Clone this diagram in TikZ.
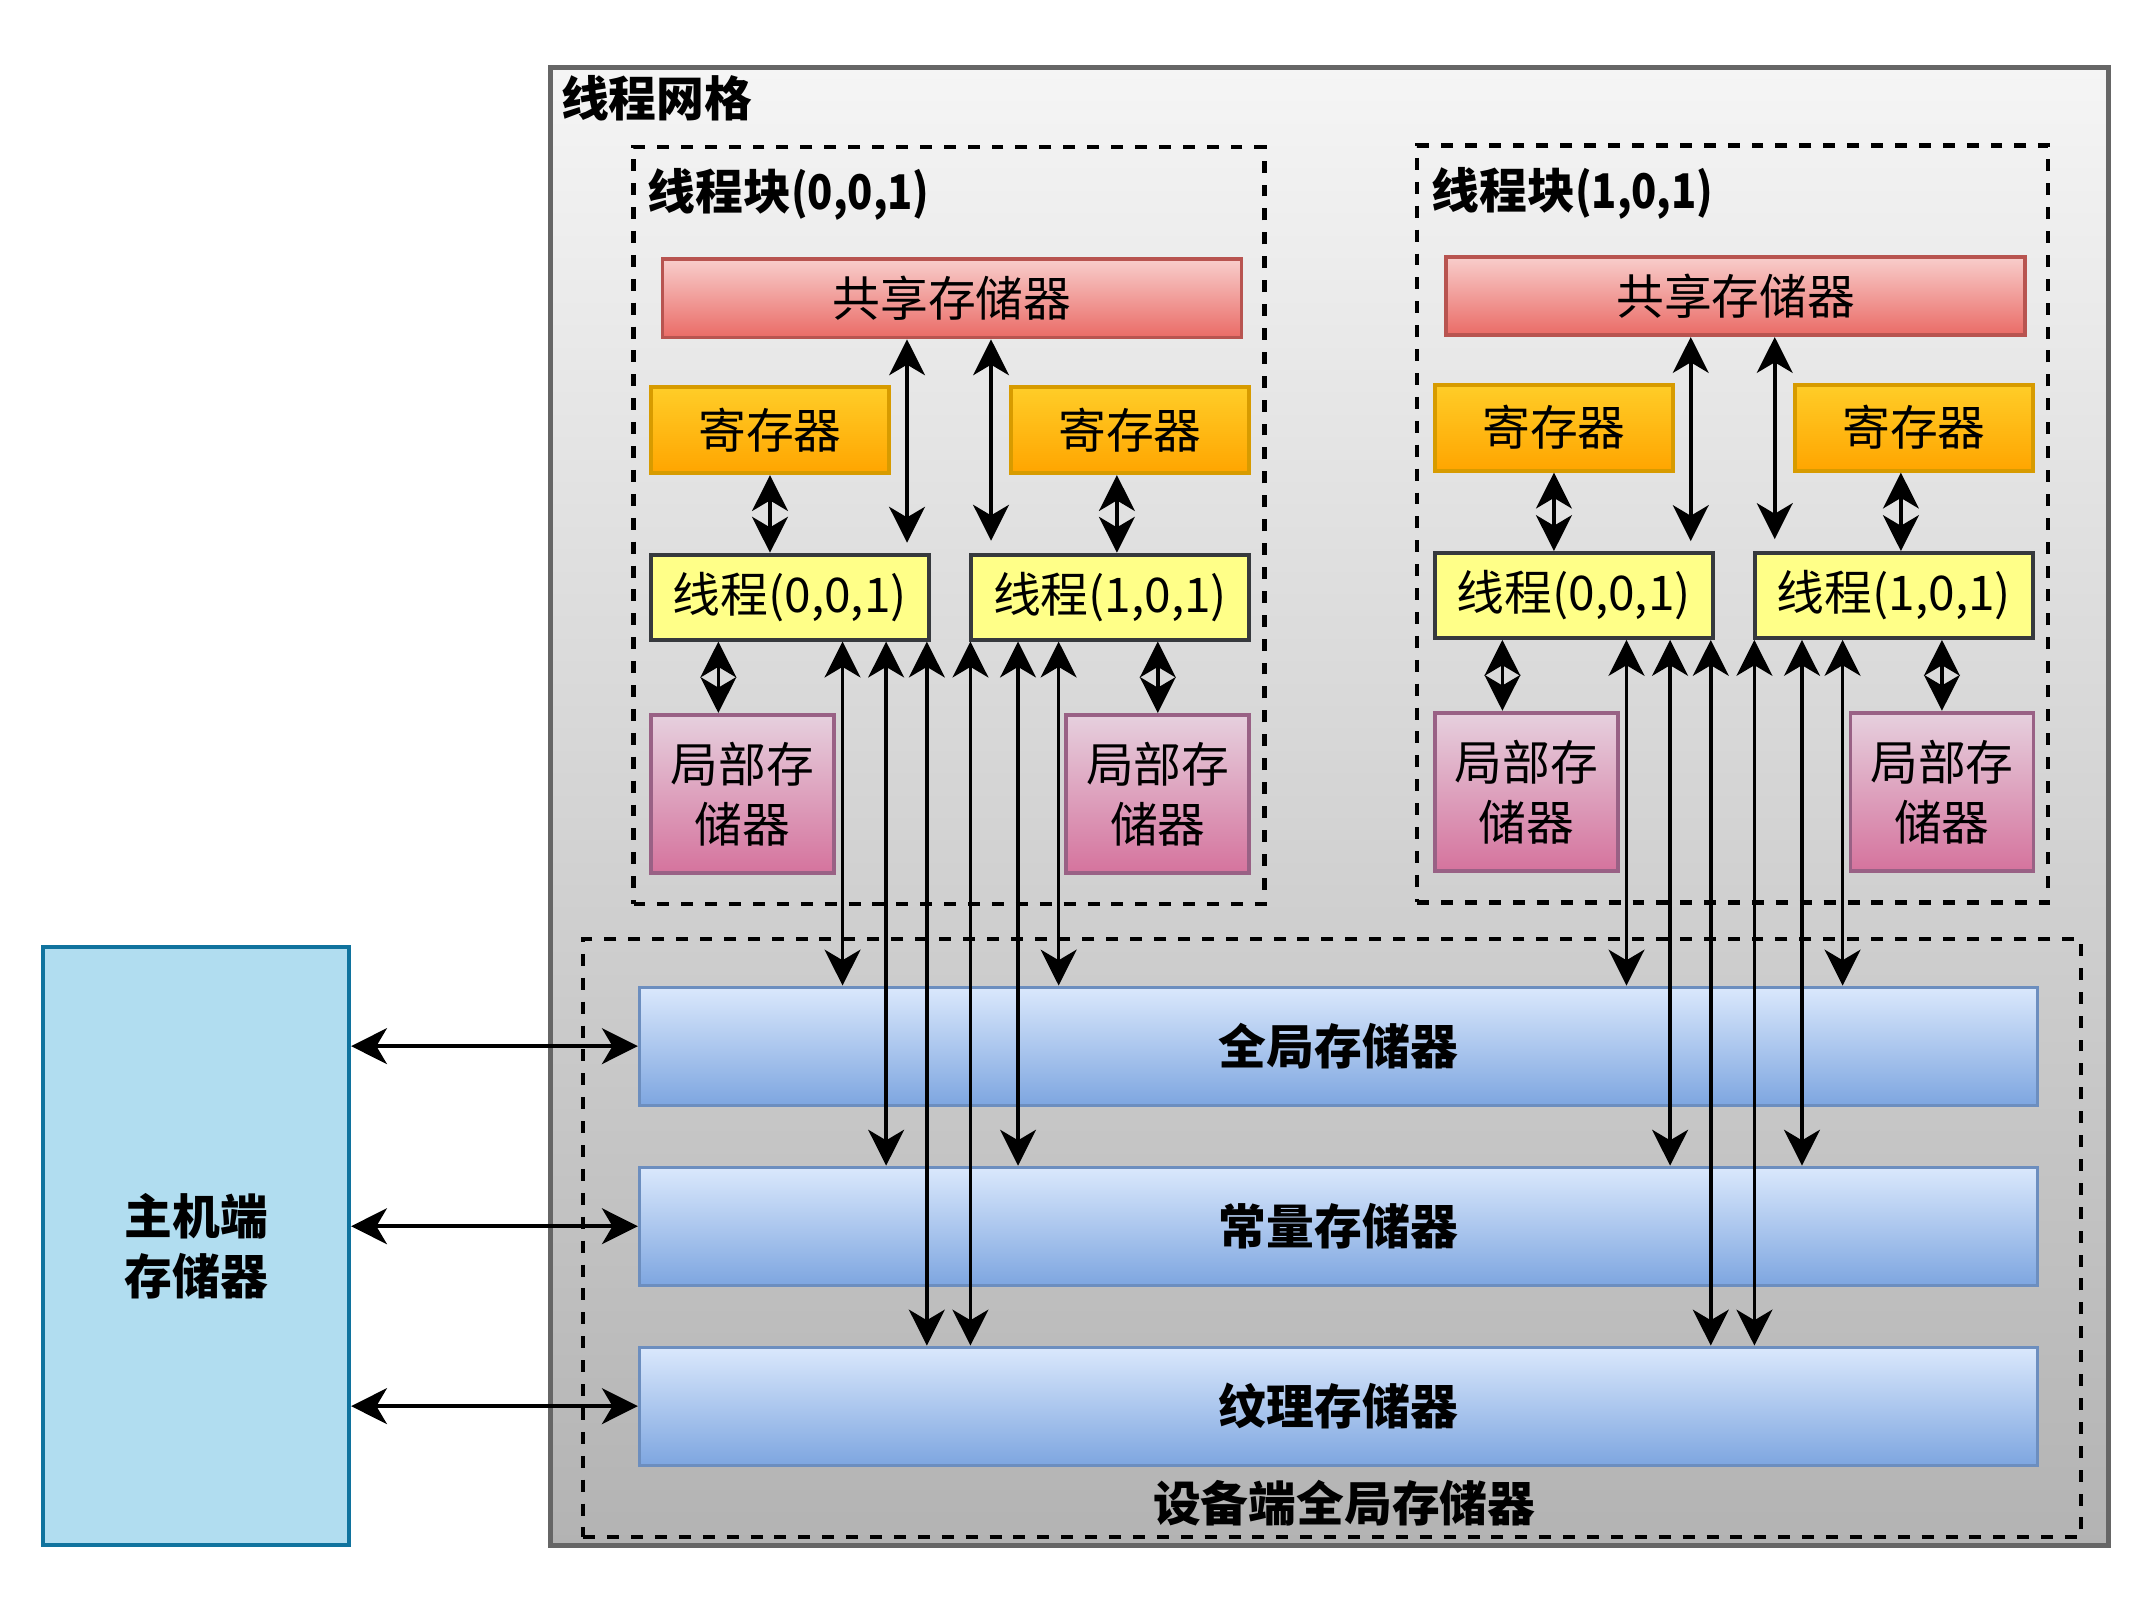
\documentclass[tikz,border=0pt]{standalone}
\usepackage{fontspec}
\setmainfont{Noto Sans CJK SC}
\usetikzlibrary{arrows.meta}
\definecolor{gridtop}{HTML}{F5F5F5}
\definecolor{gridbot}{HTML}{B3B3B3}
\definecolor{gridline}{HTML}{666666}
\definecolor{shtop}{HTML}{F8CECC}
\definecolor{shbot}{HTML}{EA6B66}
\definecolor{shline}{HTML}{B85450}
\definecolor{regtop}{HTML}{FFCD28}
\definecolor{regbot}{HTML}{FFA500}
\definecolor{regline}{HTML}{D79B00}
\definecolor{thrfill}{HTML}{FFFF88}
\definecolor{thrline}{HTML}{36393D}
\definecolor{loctop}{HTML}{E6D0DE}
\definecolor{locbot}{HTML}{D5739D}
\definecolor{locline}{HTML}{996185}
\definecolor{memtop}{HTML}{DAE8FC}
\definecolor{membot}{HTML}{7EA6E0}
\definecolor{memline}{HTML}{6C8EBF}
\definecolor{hostfill}{HTML}{B1DDF0}
\definecolor{hostline}{HTML}{10739E}
\newcommand{\narrowid}[1]{{\addfontfeature{FakeStretch=0.87}#1}}
\tikzset{
	cell/.style={draw, line width=1.1pt, inner sep=0pt, align=center, font=\fontsize{13.6}{17}\selectfont},
	gridbox/.style={cell, line width=1.4pt, draw=gridline, top color=gridtop, bottom color=gridbot, minimum width=15.58cm, minimum height=14.78cm},
	blockbox/.style={draw, line width=1.15pt, dash pattern=on 3.4pt off 3.4pt, minimum width=6.31cm, minimum height=7.57cm},
	shbox/.style={cell, draw=shline, top color=shtop, bottom color=shbot, minimum width=5.79cm, minimum height=0.785cm},
	regbox/.style={cell, draw=regline, top color=regtop, bottom color=regbot, minimum width=2.385cm, minimum height=0.86cm},
	thrbox/.style={cell, draw=thrline, fill=thrfill, minimum width=2.78cm, minimum height=0.85cm},
	locbox/.style={cell, draw=locline, top color=loctop, bottom color=locbot, minimum width=1.83cm, minimum height=1.585cm},
	membox/.style={cell, line width=0.9pt, draw=memline, top color=memtop, bottom color=membot, minimum width=13.98cm, minimum height=1.18cm, font=\fontsize{13.6}{17}\selectfont\bfseries},
	hostbox/.style={cell, draw=hostline, fill=hostfill, minimum width=3.06cm, minimum height=5.98cm, font=\fontsize{13.6}{17}\selectfont\bfseries},
	ttl/.style={inner sep=0pt, anchor=west, font=\fontsize{13.6}{17}\selectfont\bfseries},
	dbl/.style={>={Stealth[length=10.2pt,width=10.2pt,inset=3pt]}, <->, line width=1pt}
}
\begin{document}
\begin{tikzpicture}
		\useasboundingbox (0,0) rectangle (21.52,-16.12);
		\node[gridbox] (grid) at (13.2985,-8.0625) {};
		\node[ttl] (gridt) at ([shift={(0.12,-0.337)}]grid.north west) {线程网格};
		\node[blockbox] (blk0) at (9.49,-5.2535) {};
		\node[blockbox] (blk1) at (17.329,-5.24) {};
		\node[ttl] (blk0t) at ([shift={(0.156,-0.498)}]blk0.north west) {线程块\narrowid{(0,0,1)}};
		\node[ttl] (blk1t) at ([shift={(0.156,-0.498)}]blk1.north west) {线程块\narrowid{(1,0,1)}};
		\node[shbox] (sh0) at (9.5205,-2.982) {共享存储器};
		\node[shbox] (sh1) at (17.3575,-2.9585) {共享存储器};
		\node[regbox] (rL0) at (7.70,-4.302) {寄存器};
		\node[regbox] (rR0) at (11.299,-4.302) {寄存器};
		\node[regbox] (rL1) at (15.5395,-4.277) {寄存器};
		\node[regbox] (rR1) at (19.139,-4.277) {寄存器};
		\node[thrbox] (t00) at (7.8985,-5.9715) {线程(0,0,1)};
		\node[thrbox] (t01) at (11.1005,-5.9715) {线程(1,0,1)};
		\node[thrbox] (t10) at (15.738,-5.955) {线程(0,0,1)};
		\node[thrbox] (t11) at (18.94,-5.955) {线程(1,0,1)};
		\node[locbox] (lL0) at (7.4235,-7.9415) {局部存\\储器};
		\node[locbox] (lR0) at (11.578,-7.9415) {局部存\\储器};
		\node[locbox] (lL1) at (15.264,-7.92) {局部存\\储器};
		\node[locbox] (lR1) at (19.4195,-7.92) {局部存\\储器};
		\node[blockbox, minimum width=14.98cm, minimum height=5.98cm] (dev) at (13.323,-12.381) {};
		\node[ttl, anchor=center] (devt) at ([shift={(0.12,0.355)}]dev.south) {设备端全局存储器};
		\node[membox] (glob) at (13.384,-10.4615) {全局存储器};
		\node[membox] (cons) at (13.384,-12.2625) {常量存储器};
		\node[membox] (tex) at (13.384,-14.0615) {纹理存储器};
		\node[hostbox] (host) at (1.9615,-12.4595) {主机端\\存储器};
		\draw[dbl] (rL0.south) -- (rL0.south |- t00.north);
		\draw[dbl] ([xshift=-1.3mm]rR0.south) -- ([xshift=-1.3mm]rR0.south |- t01.north);
		\draw[dbl] ([xshift=-4.5mm]sh0.south) -- ([xshift=-4.5mm,yshift=1mm]sh0.south |- t00.north);
		\draw[dbl] ([xshift=3.9mm]sh0.south) -- ([xshift=3.9mm,yshift=1.2mm]sh0.south |- t01.north);
		\draw[dbl] ([xshift=-2.4mm]lL0.north |- t00.south) -- ([xshift=-2.4mm]lL0.north);
		\draw[dbl] (lR0.north |- t01.south) -- (lR0.north);
		\draw[dbl] ([xshift=5.27mm]t00.south) -- ([xshift=5.27mm]t00.south |- glob.north);
		\draw[dbl] ([xshift=9.63mm]t00.south) -- ([xshift=9.63mm]t00.south |- cons.north);
		\draw[dbl] ([xshift=13.7mm]t00.south) -- ([xshift=13.7mm]t00.south |- tex.north);
		\draw[dbl] ([xshift=-13.96mm]t01.south) -- ([xshift=-13.96mm]t01.south |- tex.north);
		\draw[dbl] ([xshift=-9.2mm]t01.south) -- ([xshift=-9.2mm]t01.south |- cons.north);
		\draw[dbl] ([xshift=-5.14mm]t01.south) -- ([xshift=-5.14mm]t01.south |- glob.north);
		\draw[dbl] (rL1.south) -- (rL1.south |- t10.north);
		\draw[dbl] ([xshift=-1.3mm]rR1.south) -- ([xshift=-1.3mm]rR1.south |- t11.north);
		\draw[dbl] ([xshift=-4.5mm]sh1.south) -- ([xshift=-4.5mm,yshift=1mm]sh1.south |- t10.north);
		\draw[dbl] ([xshift=3.9mm]sh1.south) -- ([xshift=3.9mm,yshift=1.2mm]sh1.south |- t11.north);
		\draw[dbl] ([xshift=-2.4mm]lL1.north |- t10.south) -- ([xshift=-2.4mm]lL1.north);
		\draw[dbl] (lR1.north |- t11.south) -- (lR1.north);
		\draw[dbl] ([xshift=5.27mm]t10.south) -- ([xshift=5.27mm]t10.south |- glob.north);
		\draw[dbl] ([xshift=9.63mm]t10.south) -- ([xshift=9.63mm]t10.south |- cons.north);
		\draw[dbl] ([xshift=13.7mm]t10.south) -- ([xshift=13.7mm]t10.south |- tex.north);
		\draw[dbl] ([xshift=-13.96mm]t11.south) -- ([xshift=-13.96mm]t11.south |- tex.north);
		\draw[dbl] ([xshift=-9.2mm]t11.south) -- ([xshift=-9.2mm]t11.south |- cons.north);
		\draw[dbl] ([xshift=-5.14mm]t11.south) -- ([xshift=-5.14mm]t11.south |- glob.north);
		\draw[dbl] (host.east |- glob.west) -- (glob.west);
		\draw[dbl] (host.east |- cons.west) -- (cons.west);
		\draw[dbl] (host.east |- tex.west) -- (tex.west);
	\end{tikzpicture}
\end{document}
